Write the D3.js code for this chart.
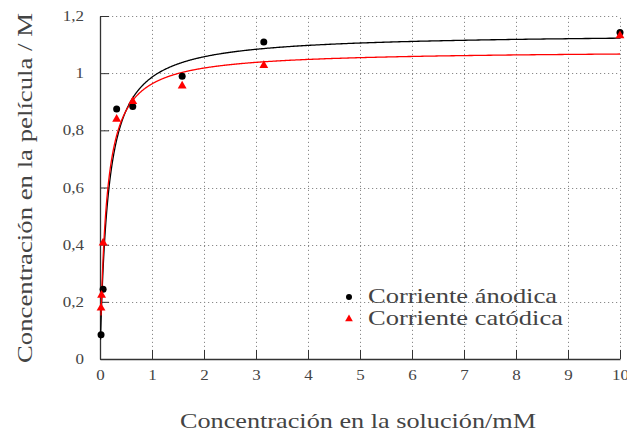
<!DOCTYPE html>
<html>
<head>
<meta charset="utf-8">
<script src="https://cdn.jsdelivr.net/npm/d3@7"></script>
<style>
  html, body { margin: 0; padding: 0; background: #fff; }
  svg { display: block; }
  text { font-family: "Liberation Serif", "Times New Roman", serif; fill: #444; }
</style>
</head>
<body>
<svg id="chart" width="627" height="441"></svg>
<script>
// Film concentration (M) against solution concentration (mM)
const concAnodic   = [0.02, 0.06, 0.32, 0.63, 1.58, 3.15, 10];
const filmAnodic   = [0.085, 0.244, 0.875, 0.883, 0.989, 1.109, 1.142];
const concCathodic = [0.02, 0.03, 0.06, 0.32, 0.63, 1.58, 3.15, 10];
const filmCathodic = [0.181, 0.226, 0.409, 0.842, 0.904, 0.958, 1.030, 1.134];

// Langmuir fits  y = Q·K·x / (1 + K·x)
const fitAnodic   = { Q: 1.14, K: 6.4, from: 0.01 };
const fitCathodic = { Q: 1.08, K: 8.2, from: 0.02 };

const xTicks = [0, 1, 2, 3, 4, 5, 6, 7, 8, 9, 10];
const xTickLabels = ["0", "1", "2", "3", "4", "5", "6", "7", "8", "9", "10"];
const yTicks = [0, 0.2, 0.4, 0.6, 0.8, 1.0, 1.2];
const yTickLabels = ["0", "0,2", "0,4", "0,6", "0,8", "1", "1,2"];

const seriesNames = ["Corriente ánodica", "Corriente catódica"];
const xTitle = "Concentración en la solución/mM";
const yTitle = "Concentración en la película / M";

const svg = d3.select("#chart");
const plot = { left: 100, right: 620, top: 16, bottom: 359 };

const x = d3.scaleLinear().domain([0, 10]).range([plot.left, plot.right]);
const y = d3.scaleLinear().domain([0, 1.2]).range([plot.bottom, plot.top]);

// dotted grid
const grid = svg.append("g").attr("stroke", "#8a8a8a").attr("stroke-width", 1)
  .attr("stroke-dasharray", "1.2,2.8");
grid.selectAll(".gx").data(xTicks.filter(d => d > 0)).join("line")
  .attr("x1", d => Math.round(x(d)) + 0.5).attr("x2", d => Math.round(x(d)) + 0.5)
  .attr("y1", plot.bottom).attr("y2", plot.top);
grid.selectAll(".gy").data(yTicks.filter(d => d > 0)).join("line")
  .attr("y1", d => Math.round(y(d)) + 0.5).attr("y2", d => Math.round(y(d)) + 0.5)
  .attr("x1", plot.left).attr("x2", plot.right);

// axes with inward ticks
const xAxis = d3.axisBottom(x).tickValues(xTicks)
  .tickFormat((d, i) => xTickLabels[i]).tickSizeInner(-9).tickSizeOuter(0).tickPadding(11);
const yAxis = d3.axisLeft(y).tickValues(yTicks)
  .tickFormat((d, i) => yTickLabels[i]).tickSizeInner(-9).tickSizeOuter(0).tickPadding(16);

const gx = svg.append("g").attr("transform", `translate(0,${plot.bottom})`).call(xAxis);
const gy = svg.append("g").attr("transform", `translate(${plot.left},0)`).call(yAxis);
[gx, gy].forEach(g => {
  g.select(".domain").attr("stroke", "#333").attr("stroke-width", 1.3);
  g.selectAll(".tick line").attr("stroke", "#333").attr("stroke-width", 1);
  g.selectAll(".tick text").attr("font-size", 14.5).attr("fill", "#4a4a4a")
    .attr("font-family", "Liberation Serif, serif");
});

// fitted curves
svg.append("clipPath").attr("id", "clip").append("rect")
  .attr("x", plot.left).attr("y", plot.top)
  .attr("width", plot.right - plot.left).attr("height", plot.bottom - plot.top);

const langmuir = f => c => f.Q * f.K * c / (1 + f.K * c);
const curvePts = f => {
  const xs = d3.range(0, 1.0001, 0.001).map(t => f.from * Math.pow(10 / f.from, t));
  return xs.map(c => [c, langmuir(f)(c)]);
};
const line = d3.line().x(d => x(d[0])).y(d => y(d[1]));

const curves = svg.append("g").attr("clip-path", "url(#clip)").attr("fill", "none")
  .attr("stroke-width", 1.3);
curves.append("path").attr("d", line(curvePts(fitAnodic))).attr("stroke", "#000");
curves.append("path").attr("d", line(curvePts(fitCathodic))).attr("stroke", "#ff0000");

// markers
const tri = d3.symbol().type(d3.symbolTriangle).size(34);
const ptsA = concAnodic.map((c, i) => [c, filmAnodic[i]]);
const ptsC = concCathodic.map((c, i) => [c, filmCathodic[i]]);

svg.append("g").selectAll("circle").data(ptsA).join("circle")
  .attr("cx", d => x(d[0])).attr("cy", d => y(d[1])).attr("r", 3.5).attr("fill", "#000");
svg.append("g").selectAll("path").data(ptsC).join("path")
  .attr("d", tri).attr("transform", d => `translate(${x(d[0])},${y(d[1]) + 0.8})`)
  .attr("fill", "#ff0000");

// legend
const leg = svg.append("g");
leg.append("circle").attr("cx", 349).attr("cy", 297).attr("r", 3).attr("fill", "#000");
leg.append("path").attr("d", d3.symbol().type(d3.symbolTriangle).size(26))
  .attr("transform", "translate(349,319)").attr("fill", "#ff0000");
leg.append("text").attr("x", 368).attr("y", 303).attr("font-size", 21)
  .attr("textLength", 189).attr("lengthAdjust", "spacingAndGlyphs").text(seriesNames[0]);
leg.append("text").attr("x", 368).attr("y", 325).attr("font-size", 21)
  .attr("textLength", 195).attr("lengthAdjust", "spacingAndGlyphs").text(seriesNames[1]);

// axis titles
svg.append("text").attr("x", 358).attr("y", 428).attr("text-anchor", "middle")
  .attr("font-size", 21).attr("textLength", 356).attr("lengthAdjust", "spacingAndGlyphs")
  .text(xTitle);
svg.append("text").attr("transform", "translate(32,188) rotate(-90)")
  .attr("text-anchor", "middle").attr("font-size", 21)
  .attr("textLength", 350).attr("lengthAdjust", "spacingAndGlyphs").text(yTitle);

// widen tick labels slightly to the proportions of the original typeface
svg.selectAll(".tick text").each(function () {
  const w = this.getComputedTextLength();
  d3.select(this).attr("textLength", w * 1.17).attr("lengthAdjust", "spacingAndGlyphs");
});
</script>
</body>
</html>
